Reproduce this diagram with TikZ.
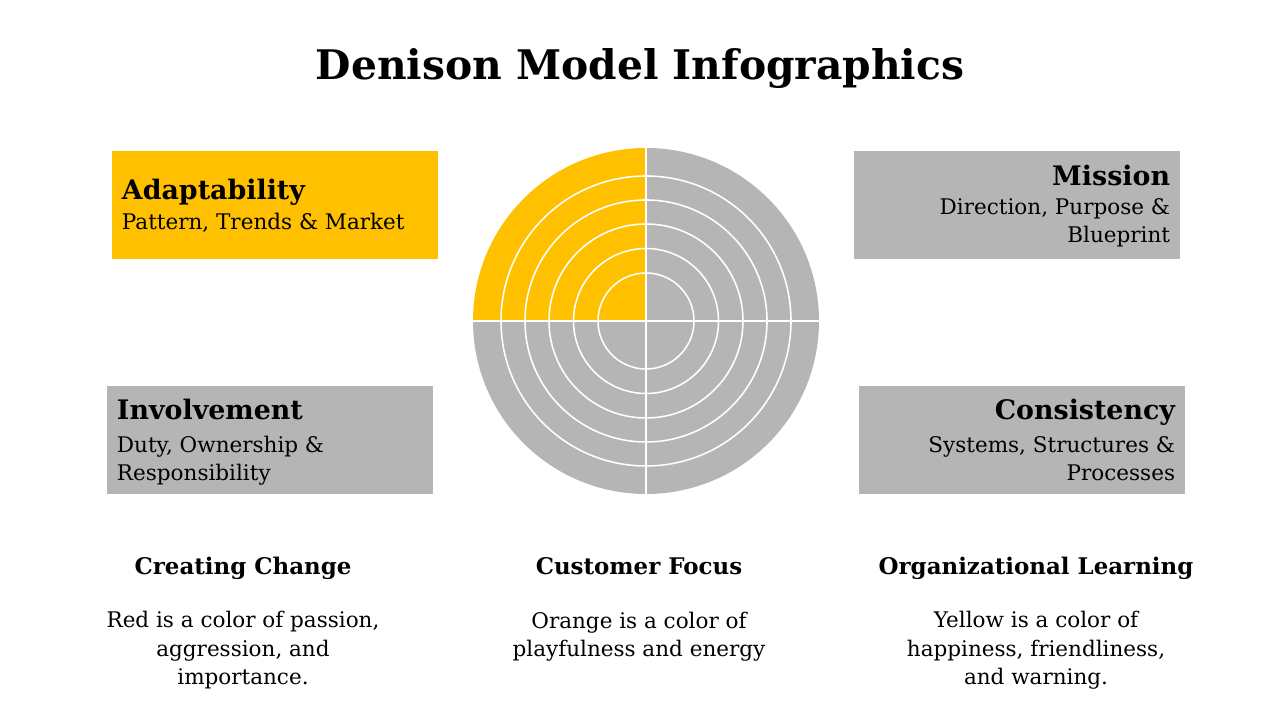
\documentclass[tikz,border=0pt]{standalone}
\usepackage{fontspec}
\setmainfont{DejaVu Serif}
\usepackage{tikz}
\usetikzlibrary{positioning, calc}
\usepackage{xcolor}
\definecolor{gold}{HTML}{FFC000}
\definecolor{ash}{HTML}{B5B5B5}

\begin{document}
\begin{tikzpicture}[
  x=0.025cm, y=0.025cm,
  panel/.style={rectangle, minimum width=8.15cm, minimum height=2.7cm, inner sep=0pt},
  head/.style={font=\fontsize{19.1}{23}\selectfont\bfseries, inner sep=0pt},
  caphead/.style={font=\fontsize{16.3}{20}\selectfont\bfseries, inner sep=0pt},
  desc/.style={font=\fontsize{15.3}{20.3}\selectfont, inner sep=0pt},
  ring/.style={white, line width=1.1pt},
  cross/.style={white, line width=1.8pt}
]
  \useasboundingbox (0,0) rectangle (1280,720);

  \node[font=\fontsize{29}{35}\selectfont\bfseries, anchor=base] (title) at (640,640) {Denison Model Infographics};

  % Target disc
  \coordinate (c) at (646,399);
  \fill[gold] (c) -- ++(180:173) arc[start angle=180, end angle=90, radius=173] -- cycle;
  \fill[ash]  (c) -- ++(90:173)  arc[start angle=90,  end angle=0,  radius=173] -- cycle;
  \fill[ash]  (c) -- ++(0:173)   arc[start angle=0,   end angle=-180, radius=173] -- cycle;
  \foreach \r in {48,72.5,97,121,145}
    \draw[ring] (c) circle[radius=\r];
  \draw[cross] ($(c)+(-173,0)$) -- ($(c)+(173,0)$);
  \draw[cross] ($(c)+(0,-173)$) -- ($(c)+(0,173)$);

  % Corner panels
  \node[panel, fill=gold] (adapt)   at (275,515) {};
  \node[panel, fill=ash]  (mission) at (1017,515) {};
  \node[panel, fill=ash]  (involve) at (270,280) {};
  \node[panel, fill=ash]  (consist) at (1022,280) {};

  \node[head, anchor=base west] (adapt-h) at ($(adapt.north west)+(10,-49)$) {Adaptability};
  \node[desc, anchor=base west, align=left] (adapt-d) at ($(adapt.north west)+(10,-79)$) {Pattern, Trends \& Market};

  \node[head, anchor=base east] (mission-h) at ($(mission.north east)+(-10,-35)$) {Mission};
  \node[desc, anchor=base east, align=right] (mission-d) at ($(mission.north east)+(-10,-92)$) {Direction, Purpose \&\\Blueprint};

  \node[head, anchor=base west] (involve-h) at ($(involve.north west)+(10,-34)$) {Involvement};
  \node[desc, anchor=base west, align=left] (involve-d) at ($(involve.north west)+(10,-95)$) {Duty, Ownership \&\\Responsibility};

  \node[head, anchor=base east] (consist-h) at ($(consist.north east)+(-10,-34)$) {Consistency};
  \node[desc, anchor=base east, align=right] (consist-d) at ($(consist.north east)+(-10,-95)$) {Systems, Structures \&\\Processes};

  % Captions below
  \node[caphead, anchor=base] (change-h) at (243,145) {Creating Change};
  \node[caphead, anchor=base] (focus-h)  at (639,145) {Customer Focus};
  \node[caphead, anchor=base] (learn-h)  at (1036,145) {Organizational Learning};

  \node[desc, anchor=base, align=center] (change-d) at (243,35) {Red is a color of passion,\\aggression, and\\importance.};
  \node[desc, anchor=base, align=center] (focus-d)  at (639,63) {Orange is a color of\\playfulness and energy};
  \node[desc, anchor=base, align=center] (learn-d)  at (1036,35) {Yellow is a color of\\happiness, friendliness,\\and warning.};
\end{tikzpicture}
\end{document}
